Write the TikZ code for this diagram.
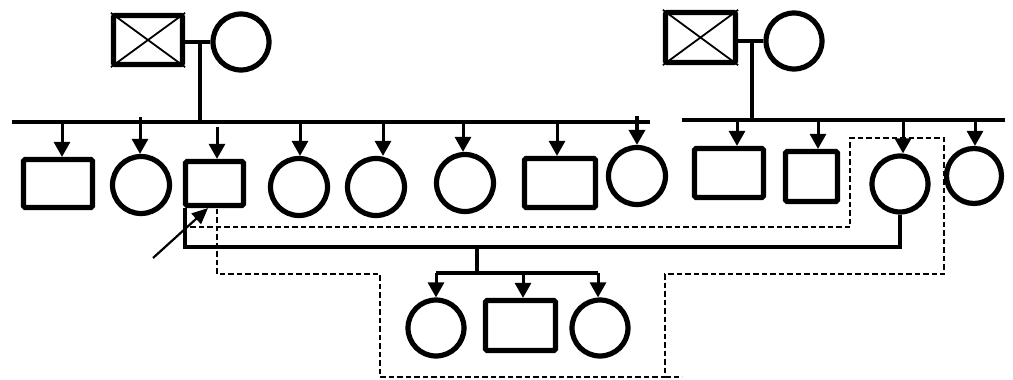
\documentclass[tikz,border=0pt]{standalone}
\usetikzlibrary{arrows.meta}
\begin{document}
\begin{tikzpicture}[x=1pt,y=-1pt,
  person/.style={draw,line width=5.2pt,inner sep=0pt,fill=white},
  male/.style 2 args={person,rectangle,rounded corners=1.5pt,minimum width=#1,minimum height=#2},
  female/.style={person,circle,minimum size=#1},
  bar/.style={line width=4.5pt},
  link/.style={line width=4pt},
  drop/.style={line width=3pt,-{Triangle[width=16pt,length=15pt]}},
  cross/.style={line width=1.8pt},
  trace/.style={line width=2.8pt,dash pattern=on 5.5pt off 3pt},
  pointer/.style={line width=2.2pt,-{Triangle[width=14pt,length=16pt]}}]
\useasboundingbox (0,0) rectangle (1013,380);

% ---- left parents ----
\node[male={69pt}{49pt}] (gf1) at (148,40) {};
\draw[cross] (gf1.north west) -- (gf1.south east) (gf1.south west) -- (gf1.north east);
\node[female=56pt] (gm1) at (241,42) {};
\coordinate (m1) at (200,42);
\coordinate (s1l) at (12,122);
\coordinate (s1r) at (650,122);
\draw[link] (gm1.west) -- (gm1.west -| gf1.east);
\draw[link] (m1) -- (m1 |- s1l);
\draw[bar] (s1l) -- (s1r);

% ---- left sibship ----
\node[male={69pt}{48pt}] (c1) at (58,183.5) {};
\node[female=57pt] (c2) at (141,185) {};
\node[male={58pt}{44pt}] (p) at (214.5,183.5) {};
\node[female=57pt] (c4) at (299,187) {};
\node[female=57pt] (c5) at (376,187) {};
\node[female=57pt] (c6) at (465,183) {};
\node[male={71pt}{49pt}] (c7) at (560,183) {};
\node[female=57pt] (c8) at (637,176) {};
\draw[drop] (62,122) -- (62,122 |- c1.north);
\draw[drop] (140,117) -- (140,117 |- c2.north);
\draw[drop] (217,127) -- (217,127 |- p.north);
\draw[drop] (300,122) -- (300,122 |- c4.north);
\draw[drop] (383,122) -- (383,122 |- c5.north);
\draw[drop] (463,122) -- (463,122 |- c6.north);
\draw[drop] (557,122) -- (557,122 |- c7.north);
\draw[drop,line width=3.6pt] (637,116) -- (c8.north);

% ---- right parents ----
\node[male={70pt}{50pt}] (gf2) at (700.5,37.5) {};
\draw[cross] (gf2.north west) -- (gf2.south east) (gf2.south west) -- (gf2.north east);
\node[female=56pt] (gm2) at (794,41) {};
\coordinate (m2) at (752,42);
\coordinate (s2l) at (682,120);
\coordinate (s2r) at (1005,120);
\draw[link] (gm2.west) -- (gm2.west -| gf2.east);
\draw[link] (m2) -- (m2 |- s2l);
\draw[bar] (s2l) -- (s2r);

% ---- right sibship ----
\node[male={69pt}{49pt}] (d1) at (729,173) {};
\node[male={52pt}{50pt}] (d2) at (811.5,176.5) {};
\node[female=56pt] (d3) at (900,184) {};
\node[female=55pt] (d4) at (974,176) {};
\draw[drop] (737,120) -- (737,120 |- d1.north);
\draw[drop] (818,120) -- (818,120 |- d2.north);
\draw[drop] (903,120) -- (903,120 |- d3.north);
\draw[drop] (975,120) -- (975,120 |- d4.north);

% ---- marriage of proband and offspring ----
\coordinate (mp) at (477,247);
\coordinate (kb) at (477,273);
\draw[link] ([xshift=2.5pt]p.south west) |- (mp) -| (d3.south);
\draw[link] (mp) -- (kb);

\node[female=56pt] (k1) at (436,328) {};
\node[male={70pt}{50pt}] (k2) at (520.5,325.5) {};
\node[female=56pt] (k3) at (600,328) {};
\draw[link] (k1.north |- kb) -- (598,273);
\draw[drop] (k1.north |- kb) -- (k1.north);
\draw[drop] (523,273) -- (523,273 |- k2.north);
\draw[drop] (598,273) -- (598,273 |- k3.north);

% ---- dashed outline ----
\coordinate (t0) at (190,227);
\draw[trace] (t0) -- (850,227) -- (850,138) -- (944,138) -- (944,274)
  -- (665,274) -- (665,377) -- (380,377) -- (380,274) -- (217,274)
  -- ([xshift=2.5pt]p.south);
\draw[trace] (665,377) -- (682,377);

% ---- proband pointer ----
\coordinate (pp) at (153,258);
\draw[pointer] (pp) -- ([xshift=-6.5pt]p.south);
\end{tikzpicture}
\end{document}
